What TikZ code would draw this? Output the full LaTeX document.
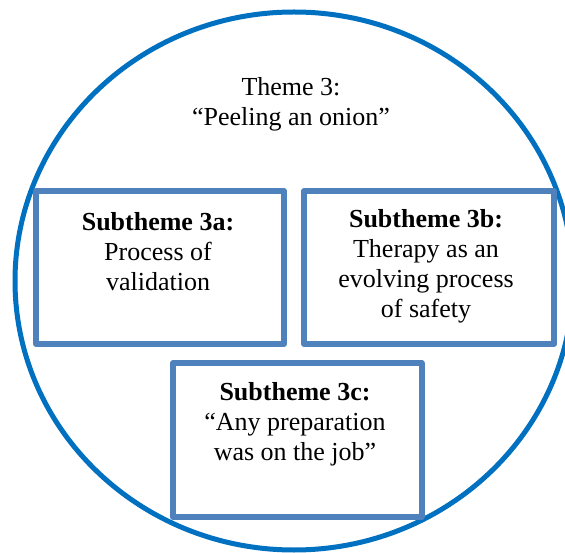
\documentclass[tikz,border=0pt]{standalone}
\usepackage{fontspec}
\setmainfont{Liberation Serif}
\usetikzlibrary{shapes.geometric}
\definecolor{ringblue}{HTML}{0070C0}
\definecolor{boxblue}{HTML}{4F81BD}
\tikzset{
  ring/.style={draw=ringblue, line width=5pt, ellipse, inner sep=0pt, outer sep=0pt},
  subbox/.style={draw=boxblue, line width=6pt, line join=round, rectangle, inner sep=0pt, outer sep=0pt, fill=none},
  txt/.style={align=center, inner sep=0pt, outer sep=0pt, anchor=north, font=\fontsize{26}{30}\selectfont, text=black}
}
\begin{document}
\begin{tikzpicture}[x=1pt,y=-1pt]
\useasboundingbox (0,0) rectangle (565,553);
\fill[white] (0,0) rectangle (565,553);
\clip (0,0) rectangle (565,553);
\node[ring, minimum width=558pt, minimum height=538pt] (theme) at (294,281) {};
\node[txt] (themetxt) at (291,77.6) {Theme 3:\\“Peeling an onion”};
\node[subbox, minimum width=248pt, minimum height=153pt] (a) at (160,267.5) {};
\node[subbox, minimum width=250pt, minimum height=153pt] (b) at (429,267.5) {};
\node[subbox, minimum width=248.5pt, minimum height=154pt] (c) at (297.25,440) {};
\node[txt] (atxt) at (158,212.4) {\textbf{Subtheme 3a:}\\Process of\\validation};
\node[txt] (btxt) at (426,209.4) {\textbf{Subtheme 3b:}\\Therapy as an\\evolving process\\of safety};
\node[txt] (ctxt) at (295,382.4) {\textbf{Subtheme 3c:}\\“Any preparation\\was on the job”};
\end{tikzpicture}
\end{document}
